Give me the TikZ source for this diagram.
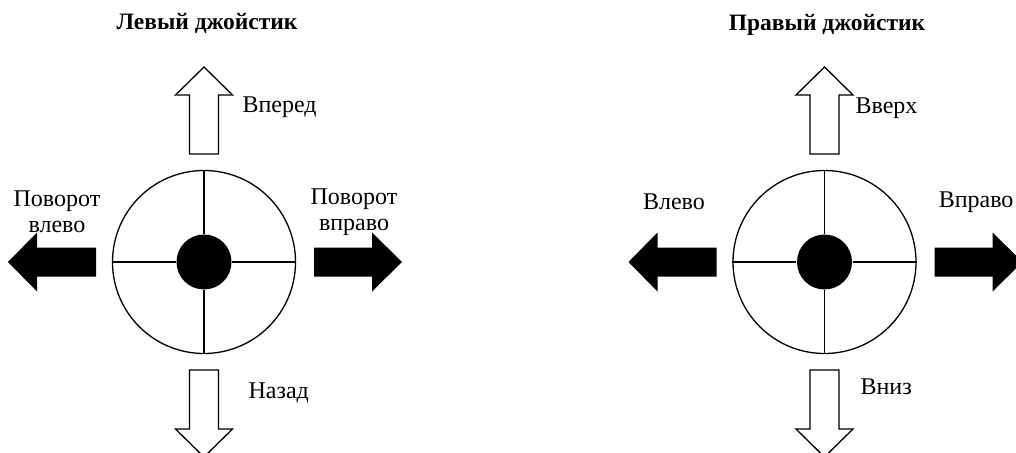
\documentclass[tikz,border=0pt]{standalone}
\usepackage{fontspec}
\setmainfont{Liberation Serif}
\tikzset{lbl/.style={inner sep=0pt, align=center,
  font=\fontsize{24}{26}\selectfont},
  ttl/.style={inner sep=0pt, font=\bfseries\fontsize{23.5}{26}\selectfont},
  ring/.style={circle, draw, line width=1.3pt, minimum size=183pt,
  inner sep=0pt},
  knob/.style={circle, fill=black, minimum size=55pt, inner sep=0pt},
  outarr/.style={draw, line width=1.3pt, fill=white},
  fillarr/.style={fill=black}}

\begin{document}
\begin{tikzpicture}[x=1pt, y=-1pt, line width=1.1pt]
  \useasboundingbox (0,0) rectangle (1016,452);
  % Left joystick
  \node[ttl] (ttlL) at (207,23) {Левый джойстик};
  \begin{scope}[shift={(204,262)}]
    \node[ring] (ringL) at (0,0) {};
    \node[knob] (knobL) at (0,0) {};
    \draw (ringL.north) -- (knobL.north);
    \draw (ringL.south) -- (knobL.south);
    \draw (ringL.west) -- (knobL.west);
    \draw (ringL.east) -- (knobL.east);
    % up / down (outlined)
    \draw[outarr] (-14.5,-108) -- (-14.5,-167) -- (-28.5,-167) -- (0,-195)
      -- (28.5,-167) -- (14.5,-167) -- (14.5,-108) -- cycle;
    \draw[outarr] (-14.5,108) -- (-14.5,167) -- (-28.5,167) -- (0,195)
      -- (28.5,167) -- (14.5,167) -- (14.5,108) -- cycle;
    % left / right (filled)
    \fill[fillarr] (-108,-14.5) -- (-167,-14.5) -- (-167,-29.5) -- (-196,0)
      -- (-167,29.5) -- (-167,14.5) -- (-108,14.5) -- cycle;
    \fill[fillarr] (110,-14.5) -- (168,-14.5) -- (168,-29.5) -- (198,0)
      -- (168,29.5) -- (168,14.5) -- (110,14.5) -- cycle;
  \end{scope}
  \node[lbl, anchor=west] (fwd) at (242,107) {Вперед};
  \node[lbl, anchor=west] (back) at (248,393) {Назад};
  \node[lbl] (turnL) at (57,212) {Поворот\\влево};
  \node[lbl] (turnR) at (354,212) {Поворот\\вправо};
  % Right joystick
  \node[ttl] (ttlR) at (827,25) {Правый джойстик};
  \begin{scope}[shift={(824.5,262)}]
    \node[ring] (ringR) at (0,0) {};
    \node[knob] (knobR) at (0,0) {};
    \draw (ringR.north) -- (knobR.north);
    \draw (ringR.south) -- (knobR.south);
    \draw (ringR.west) -- (knobR.west);
    \draw (ringR.east) -- (knobR.east);
    % up / down (outlined)
    \draw[outarr] (-14.5,-108) -- (-14.5,-167) -- (-28.5,-167) -- (0,-195)
      -- (28.5,-167) -- (14.5,-167) -- (14.5,-108) -- cycle;
    \draw[outarr] (-14.5,108) -- (-14.5,167) -- (-28.5,167) -- (0,195)
      -- (28.5,167) -- (14.5,167) -- (14.5,108) -- cycle;
    % left / right (filled)
    \fill[fillarr] (-108,-14.5) -- (-167,-14.5) -- (-167,-29.5) -- (-196,0)
      -- (-167,29.5) -- (-167,14.5) -- (-108,14.5) -- cycle;
    \fill[fillarr] (110,-14.5) -- (168,-14.5) -- (168,-29.5) -- (198,0)
      -- (168,29.5) -- (168,14.5) -- (110,14.5) -- cycle;
  \end{scope}
  \node[lbl, anchor=west] (up) at (855,108) {Вверх};
  \node[lbl, anchor=west] (down) at (860,387) {Вниз};
  \node[lbl] (left) at (674,202) {Влево};
  \node[lbl, anchor=east] (right) at (1014,202) {Вправо};
\end{tikzpicture}
\end{document}
